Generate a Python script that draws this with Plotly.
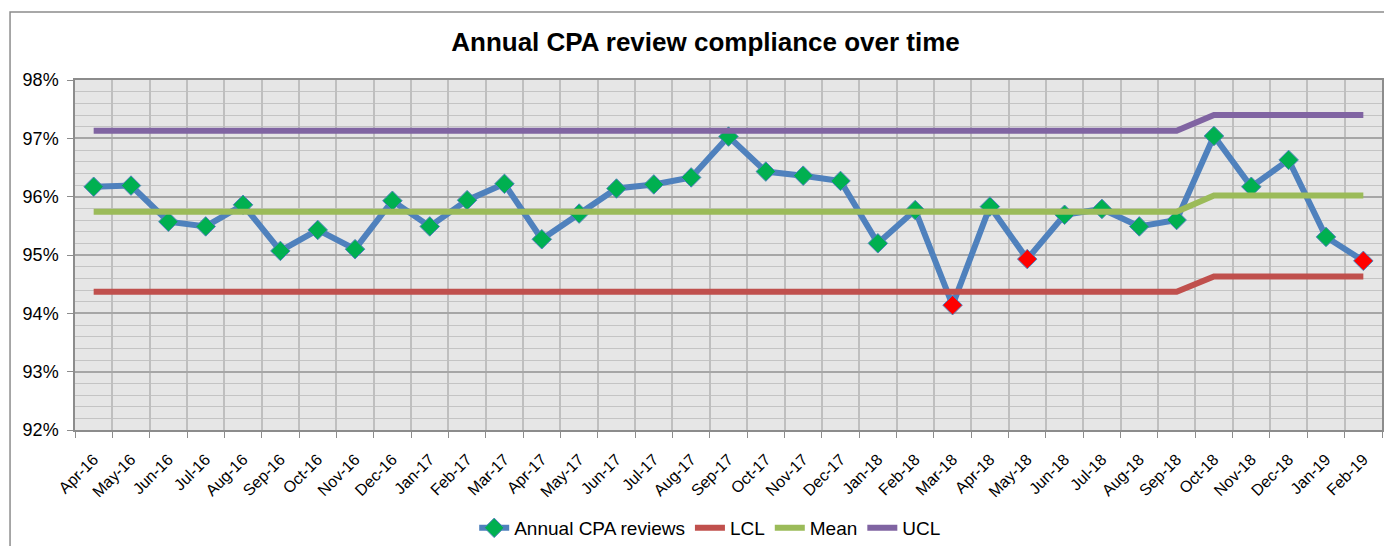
import plotly.graph_objects as go

months = ["Apr-16","May-16","Jun-16","Jul-16","Aug-16","Sep-16","Oct-16","Nov-16","Dec-16",
          "Jan-17","Feb-17","Mar-17","Apr-17","May-17","Jun-17","Jul-17","Aug-17","Sep-17",
          "Oct-17","Nov-17","Dec-17","Jan-18","Feb-18","Mar-18","Apr-18","May-18","Jun-18",
          "Jul-18","Aug-18","Sep-18","Oct-18","Nov-18","Dec-18","Jan-19","Feb-19"]

reviews = [96.17, 96.19, 95.57, 95.49, 95.86, 95.07, 95.43, 95.10, 95.93,
           95.49, 95.94, 96.22, 95.27, 95.71, 96.14, 96.21, 96.33, 97.03,
           96.43, 96.36, 96.27, 95.20, 95.77, 94.14, 95.83, 94.93, 95.69,
           95.79, 95.49, 95.60, 97.04, 96.17, 96.63, 95.31, 94.90]

lcl = [94.37]*30 + [94.63]*5
mean = [95.74]*30 + [96.02]*5
ucl = [97.13]*30 + [97.40]*5

flagged = ["Mar-18", "May-18", "Feb-19"]

marker_colors = ["#FF0000" if m in flagged else "#00B050" for m in months]

fig = go.Figure()
fig.add_trace(go.Scatter(
    x=months, y=reviews, name="Annual CPA reviews", mode="lines+markers",
    line=dict(color="#4F81BD", width=6),
    marker=dict(symbol="diamond", size=15, color=marker_colors,
                line=dict(color="#4F81BD", width=1)),
))
fig.add_trace(go.Scatter(x=months, y=lcl, name="LCL", mode="lines",
                         line=dict(color="#C0504D", width=6)))
fig.add_trace(go.Scatter(x=months, y=mean, name="Mean", mode="lines",
                         line=dict(color="#9BBB59", width=6)))
fig.add_trace(go.Scatter(x=months, y=ucl, name="UCL", mode="lines",
                         line=dict(color="#8064A2", width=6)))

fig.update_layout(
    width=1384, height=538,
    margin=dict(l=67, r=10, t=72, b=116, autoexpand=False),
    paper_bgcolor="white",
    plot_bgcolor="#E6E6E6",
    font=dict(family="Liberation Sans, Arial, sans-serif", color="black"),
    title=dict(text="<b>Annual CPA review compliance over time</b>",
               x=0.504, xanchor="center", y=0.937, yanchor="middle",
               font=dict(size=26, color="black")),
    showlegend=True,
    legend=dict(orientation="h", x=0.486, xanchor="center", y=-0.28, yanchor="middle",
                font=dict(size=19)),
    shapes=[dict(type="rect", xref="paper", yref="paper",
                 x0=-0.0497, x1=1.02, y0=-0.5, y1=1.194,
                 line=dict(color="#8C8C8C", width=1.5), fillcolor="rgba(0,0,0,0)",
                 layer="below")],
)

fig.update_xaxes(
    type="category", tickson="boundaries", ticks="outside", ticklen=6,
    tickcolor="#8C8C8C", tickangle=-45, tickfont=dict(size=16), ticklabelstandoff=12,
    showgrid=True, gridcolor="#BFBFBF", gridwidth=1.5, automargin=False,
    showline=True, linecolor="#8C8C8C", linewidth=1.5, mirror=True,
    range=[-0.5, len(months) - 0.5],
)
fig.update_yaxes(
    range=[92, 98], dtick=1, ticksuffix="%", ticks="outside", ticklen=6,
    tickcolor="#8C8C8C", tickfont=dict(size=18), ticklabelstandoff=5,
    showgrid=True, gridcolor="#A6A6A6", gridwidth=1.5, automargin=False,
    minor=dict(dtick=0.2, showgrid=True, gridcolor="#C4C4C4", gridwidth=1.2),
    showline=True, linecolor="#8C8C8C", linewidth=1.5, mirror=True,
    zeroline=False,
)

fig.write_html("out.html")
